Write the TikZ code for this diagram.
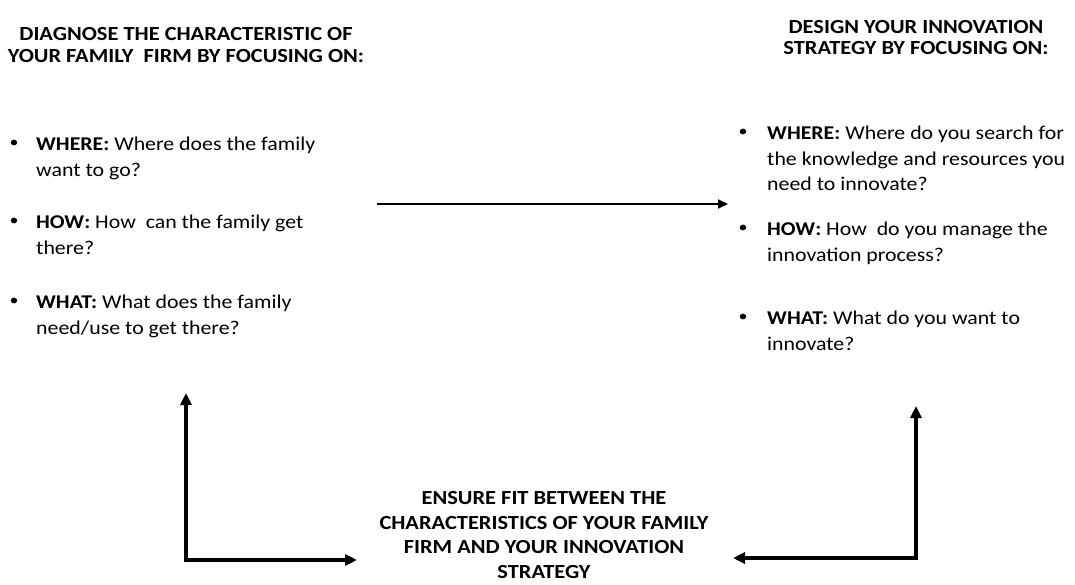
\documentclass[tikz,border=0pt]{standalone}
\usepackage{fontspec}
\setmainfont{Carlito}[FakeStretch=1.12]
\usetikzlibrary{arrows.meta}
\begin{document}
\begin{tikzpicture}[x=1pt,y=-1pt,
  head/.style={font=\fontsize{20}{21.5}\selectfont\bfseries, align=center, inner sep=0pt},
  foot/.style={font=\fontsize{20}{24.7}\selectfont\bfseries, align=center, inner sep=0pt},
  body/.style={font=\fontsize{19.5}{25.5}\selectfont, align=left, inner sep=0pt, anchor=north west},
  bul/.style={font=\fontsize{16}{16}\selectfont, inner sep=0pt},
  thin/.style={line width=2pt, -{Triangle[length=10pt,width=9pt]}},
  thick/.style={line width=4pt, {Triangle[length=12pt,width=11pt]}-{Triangle[length=12pt,width=11pt]}}]
\useasboundingbox (0,0) rectangle (1075,585);
% headings
\node[head] (t1) at (186,45) {DIAGNOSE THE CHARACTERISTIC OF\\YOUR FAMILY\ \ FIRM BY FOCUSING ON:};
\node[head] (t2) at (916,37.5) {DESIGN YOUR INNOVATION\\STRATEGY BY FOCUSING ON:};
\node[foot, text depth=0pt] (t3) at (544,535) {ENSURE FIT BETWEEN THE\\CHARACTERISTICS OF YOUR FAMILY\\FIRM AND YOUR INNOVATION\\STRATEGY};
% left bullets
\node[bul] (lb1) at (14,144) {•};
\node[body] (l1) at (36,137) {\textbf{WHERE:} Where does the family\\want to go?};
\node[bul] (lb2) at (14,222) {•};
\node[body] (l2) at (36,215) {\textbf{HOW:} How\ \ can the family get\\there?};
\node[bul] (lb3) at (14,302) {•};
\node[body] (l3) at (36,295) {\textbf{WHAT:} What does the family\\need/use to get there?};
% right bullets
\node[bul] (rb1) at (743,133) {•};
\node[body] (r1) at (767,126) {\textbf{WHERE:} Where do you search for\\the knowledge and resources you\\need to innovate?};
\node[bul] (rb2) at (743,229) {•};
\node[body] (r2) at (767,222) {\textbf{HOW:} How\ \ do you manage the\\innovation process?};
\node[bul] (rb3) at (743,318) {•};
\node[body] (r3) at (767,311) {\textbf{WHAT:} What do you want to\\innovate?};
% connectors
\coordinate (hA) at (377,204);
\coordinate (hB) at (728,204);
\draw[thin] (hA) -- (hB);
\coordinate (lU) at (186,393);
\coordinate (lC) at (186,560);
\coordinate (lR) at (357,560);
\draw[thick] (lU) -- (lC) -- (lR);
\coordinate (rU) at (916,406);
\coordinate (rC) at (916,558);
\coordinate (rL) at (733,558);
\draw[thick] (rU) -- (rC) -- (rL);
\end{tikzpicture}
\end{document}
